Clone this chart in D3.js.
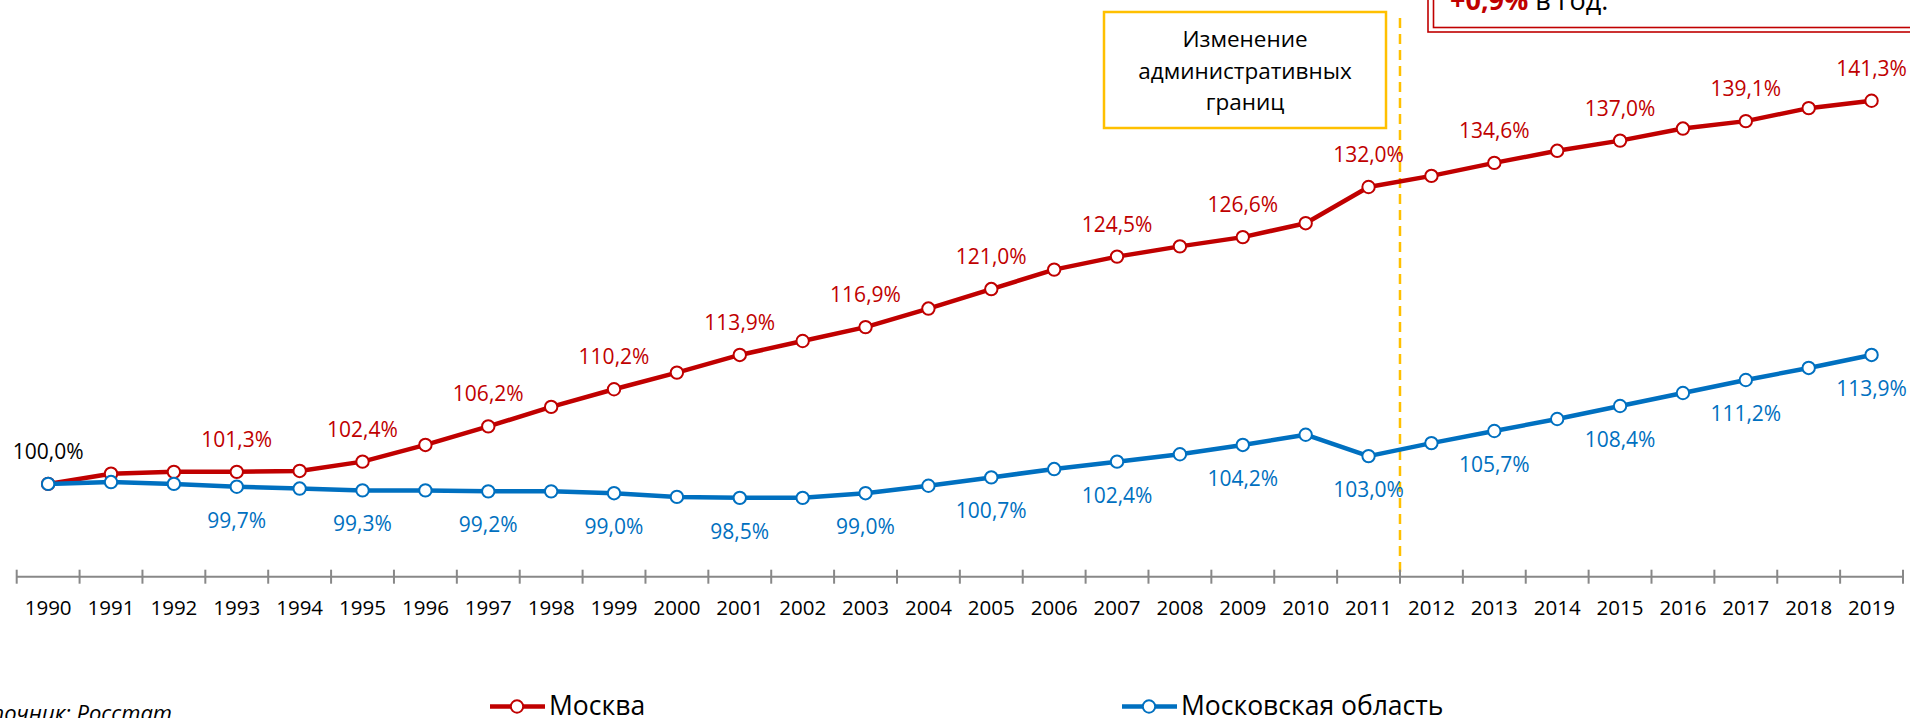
<!DOCTYPE html>
<html>
<head>
<meta charset="utf-8">
<script src="https://cdn.jsdelivr.net/npm/d3@7"></script>
<style>
  html, body { margin: 0; padding: 0; background: #ffffff; }
  svg { display: block; }
  text { font-family: "Open Sans", "Noto Sans", sans-serif; }
</style>
</head>
<body>
<svg id="chart" width="1910" height="718"></svg>
<script>
// ---- data ----
const years = [1990,1991,1992,1993,1994,1995,1996,1997,1998,1999,
               2000,2001,2002,2003,2004,2005,2006,2007,2008,2009,
               2010,2011,2012,2013,2014,2015,2016,2017,2018,2019];
const moscow = [100.0,101.1,101.3,101.3,101.4,102.4,104.2,106.2,108.3,110.2,
                112.0,113.9,115.4,116.9,118.9,121.0,123.1,124.5,125.6,126.6,
                128.1,132.0,133.2,134.6,135.9,137.0,138.3,139.1,140.5,141.3];
const moscowRegion = [100.0,100.2,100.0,99.7,99.5,99.3,99.3,99.2,99.2,99.0,
                      98.6,98.5,98.5,99.0,99.8,100.7,101.6,102.4,103.2,104.2,
                      105.3,103.0,104.4,105.7,107.0,108.4,109.8,111.2,112.5,113.9];
const labeledYears = [1993,1995,1997,1999,2001,2003,2005,2007,2009,2011,2013,2015,2017,2019];
const seriesNames = ["Москва", "Московская область"];
const boxLines = ["Изменение", "административных", "границ"];
const changeYear = 2012;
const yDomain = [90, 150];

// ---- styles ----
const RED = "#C00000", BLUE = "#0070C0", GOLD = "#FFC000", AXIS = "#888888";

const svg = d3.select("#chart");
svg.append("rect").attr("width", 1910).attr("height", 718).attr("fill", "#fff");

const x = d3.scaleBand().domain(years).range([16.7, 1903]).padding(0);
const y = d3.scaleLinear().domain(yDomain).range([576.7, 20]);
const cx = yr => x(yr) + x.bandwidth() / 2;
const fmt = v => d3.format(".1f")(v).replace(".", ",") + "%";

// dashed boundary line
svg.append("line")
  .attr("x1", x(changeYear)).attr("x2", x(changeYear))
  .attr("y1", 18).attr("y2", y(yDomain[0]))
  .attr("stroke", GOLD).attr("stroke-width", 2.5)
  .attr("stroke-dasharray", "10,6");

// annotation box
svg.append("rect")
  .attr("x", 1104).attr("y", 12).attr("width", 282).attr("height", 116)
  .attr("fill", "#fff").attr("stroke", GOLD).attr("stroke-width", 2.5);
svg.append("g").selectAll("text").data(boxLines).join("text")
  .attr("x", 1245).attr("y", (d, i) => 47 + i * 31.5)
  .attr("text-anchor", "middle").attr("font-size", 22.5).attr("fill", "#000")
  .text(d => d);

// top right red double box
svg.append("rect").attr("x", 1428).attr("y", -60).attr("width", 600).attr("height", 92)
  .attr("fill", "#fff").attr("stroke", RED).attr("stroke-width", 1.6);
svg.append("rect").attr("x", 1433.5).attr("y", -60).attr("width", 600).attr("height", 87.5)
  .attr("fill", "none").attr("stroke", RED).attr("stroke-width", 1.6);
const tt = svg.append("text").attr("x", 1450).attr("y", 9.5).attr("font-size", 27);
tt.append("tspan").attr("font-weight", "bold").attr("fill", RED).text("+0,9%");
tt.append("tspan").attr("fill", "#000").text(" в год.");

// x axis
const axisY = y(yDomain[0]);
svg.append("line").attr("x1", x.range()[0]).attr("x2", x.range()[1])
  .attr("y1", axisY).attr("y2", axisY).attr("stroke", AXIS).attr("stroke-width", 2);
const bounds = years.map(d => x(d)).concat([x.range()[1]]);
svg.append("g").selectAll("line").data(bounds).join("line")
  .attr("x1", d => d).attr("x2", d => d)
  .attr("y1", axisY - 7).attr("y2", axisY + 7)
  .attr("stroke", AXIS).attr("stroke-width", 2);
const xAxis = svg.append("g").attr("transform", `translate(0,${axisY})`)
  .call(d3.axisBottom(x).tickSize(0).tickPadding(0));
xAxis.select(".domain").remove();
xAxis.selectAll("text").attr("font-size", 20.5).attr("fill", "#000")
  .attr("font-family", "'Open Sans','Noto Sans',sans-serif")
  .attr("dy", null).attr("y", 38.5);

// series
const line = d3.line().x((d, i) => cx(years[i])).y(d => y(d));
function drawSeries(vals, color) {
  svg.append("path").datum(vals).attr("d", line)
    .attr("fill", "none").attr("stroke", color).attr("stroke-width", 4.5)
    .attr("stroke-linejoin", "round");
  svg.append("g").selectAll("circle").data(vals).join("circle")
    .attr("cx", (d, i) => cx(years[i])).attr("cy", d => y(d)).attr("r", 6.2)
    .attr("fill", "#fff").attr("stroke", color).attr("stroke-width", 2);
}
drawSeries(moscow, RED);
drawSeries(moscowRegion, BLUE);

// labels
const lbl = svg.append("g").attr("font-size", 21).attr("text-anchor", "middle");
labeledYears.forEach(yr => {
  const i = years.indexOf(yr);
  lbl.append("text").attr("x", cx(yr)).attr("y", y(moscow[i]) - 25)
    .attr("fill", RED).text(fmt(moscow[i]));
  lbl.append("text").attr("x", cx(yr)).attr("y", y(moscowRegion[i]) + 41)
    .attr("fill", BLUE).text(fmt(moscowRegion[i]));
});
lbl.append("text").attr("x", cx(years[0])).attr("y", y(moscow[0]) - 25)
  .attr("fill", "#000").text(fmt(moscow[0]));

// legend
const legend = [
  {name: seriesNames[0], color: RED, x0: 490},
  {name: seriesNames[1], color: BLUE, x0: 1122}
];
legend.forEach(l => {
  const g = svg.append("g");
  g.append("line").attr("x1", l.x0).attr("x2", l.x0 + 55).attr("y1", 706.5).attr("y2", 706.5)
    .attr("stroke", l.color).attr("stroke-width", 4.5);
  g.append("circle").attr("cx", l.x0 + 27).attr("cy", 706.5).attr("r", 6.2)
    .attr("fill", "#fff").attr("stroke", l.color).attr("stroke-width", 2);
  g.append("text").attr("x", l.x0 + 59).attr("y", 715).attr("font-size", 26.5)
    .attr("fill", "#000").text(l.name);
});

// source
svg.append("text").attr("x", 172).attr("y", 721).attr("text-anchor", "end")
  .attr("font-size", 22).attr("font-style", "italic").attr("fill", "#000")
  .text("Источник: Росстат");
</script>
</body>
</html>
